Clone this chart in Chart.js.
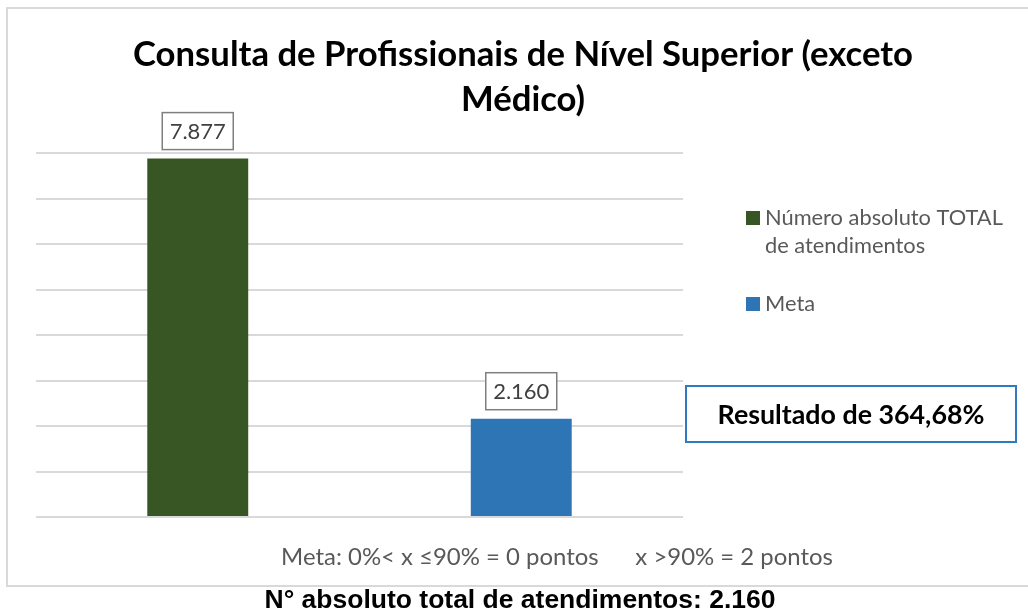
<!DOCTYPE html>
<html>
<head>
<meta charset="utf-8">
<script src="https://cdn.jsdelivr.net/npm/chart.js@4.4.1/dist/chart.umd.min.js"></script>
<style>
html,body{margin:0;padding:0;background:#fff;}
#wrap{width:1028px;height:615px;position:relative;}
</style>
</head>
<body>
<div id="wrap"><canvas id="c" width="1028" height="615"></canvas></div>
<script>
const categories = ["Número absoluto TOTAL de atendimentos", "Meta"];
const seriesLabels = ["Número absoluto TOTAL de atendimentos", "Meta"];
const totalValues = [7877, null];
const metaValues = [null, 2160];
const valueLabels = ["7.877", "2.160"];
const titleLines = ["Consulta de Profissionais de Nível Superior (exceto", "Médico)"];
const legendLines0 = ["Número absoluto TOTAL", "de atendimentos"];
const footnote = "Meta: 0%< x ≤90% = 0 pontos      x >90% = 2 pontos";
const resultText = "Resultado de 364,68%";
const bottomText = "N° absoluto total de atendimentos: 2.160";
const yMax = 8000, yStep = 1000;

const GREEN = "#375623", BLUE = "#2E75B6";

function fitFont(ctx, text, width, weight, family) {
  ctx.font = weight + " 100px " + family;
  const w = ctx.measureText(text).width;
  const size = 100 * width / w;
  ctx.font = weight + " " + size.toFixed(2) + "px " + family;
  return size;
}

const decor = {
  id: "decor",
  beforeDraw(chart) {
    const ctx = chart.ctx;
    ctx.save();
    ctx.fillStyle = "#fff";
    ctx.fillRect(0, 0, chart.width, chart.height);
    ctx.strokeStyle = "#d9d9d9";
    ctx.lineWidth = 2;
    ctx.strokeRect(7, 8, 1030, 578);
    ctx.restore();
  },
  afterDatasetsDraw(chart) {
    const ctx = chart.ctx;
    ctx.save();
    chart.data.datasets.forEach((ds, di) => {
      const meta = chart.getDatasetMeta(di);
      meta.data.forEach((el, i) => {
        if (ds.data[i] == null) return;
        const txt = valueLabels[i];
        ctx.font = "22px Lato";
        ctx.textAlign = "center";
        ctx.textBaseline = "middle";
        const bw = 71, bh = 37;
        const bx = el.x - bw / 2, by = el.y - 9 - bh;
        ctx.fillStyle = "#fff";
        ctx.fillRect(bx, by, bw, bh);
        ctx.strokeStyle = "#7f7f7f";
        ctx.lineWidth = 1.5;
        ctx.strokeRect(bx, by, bw, bh);
        ctx.fillStyle = "#404040";
        ctx.fillText(txt, el.x, by + bh / 2 + 1);
      });
    });
    ctx.restore();
  },
  afterDraw(chart) {
    const ctx = chart.ctx;
    ctx.save();
    ctx.textBaseline = "middle";
    ctx.textAlign = "center";
    // title
    ctx.fillStyle = "#000";
    fitFont(ctx, titleLines[0], 780, "bold", "Lato");
    ctx.fillText(titleLines[0], 523, 55);
    ctx.fillText(titleLines[1], 523, 100);
    // legend
    ctx.textAlign = "left";
    const legendRows = [
      {color: chart.data.datasets[0].backgroundColor, lines: legendLines0, y: 218},
      {color: chart.data.datasets[1].backgroundColor, lines: [chart.data.datasets[1].label], y: 304}
    ];
    legendRows.forEach(r => {
      ctx.fillStyle = r.color;
      ctx.fillRect(746, r.y - 7, 14, 14);
      ctx.fillStyle = "#595959";
      fitFont(ctx, legendLines0[0], 238, "normal", "Lato");
      r.lines.forEach((l, k) => ctx.fillText(l, 765, r.y + k * 28));
    });
    // result box
    ctx.strokeStyle = "#2E7BC4";
    ctx.lineWidth = 2;
    ctx.strokeRect(686, 386, 330, 56);
    ctx.fillStyle = "#000";
    ctx.textAlign = "center";
    fitFont(ctx, resultText, 267, "bold", "Lato");
    ctx.fillText(resultText, 851, 415);
    // footnote
    ctx.fillStyle = "#595959";
    fitFont(ctx, footnote, 552, "normal", "Lato");
    ctx.fillText(footnote, 557, 557);
    // bottom text
    ctx.fillStyle = "#000";
    fitFont(ctx, bottomText, 511, "bold", "'Liberation Sans', Arial");
    ctx.fillText(bottomText, 520, 601);
    ctx.restore();
  }
};

new Chart(document.getElementById("c"), {
  type: "bar",
  data: {
    labels: categories,
    datasets: [
      {label: seriesLabels[0], data: totalValues, backgroundColor: GREEN},
      {label: seriesLabels[1], data: metaValues, backgroundColor: BLUE}
    ]
  },
  options: {
    responsive: false,
    animation: false,
    devicePixelRatio: 1,
    layout: {padding: {left: 36, right: 345, top: 153, bottom: 98}},
    datasets: {bar: {grouped: false, categoryPercentage: 1, barPercentage: 0.312}},
    plugins: {legend: {display: false}, title: {display: false}, tooltip: {enabled: false}},
    scales: {
      x: {display: false},
      y: {
        min: 0, max: yMax,
        ticks: {display: false, stepSize: yStep},
        grid: {color: "#d9d9d9", lineWidth: 2, drawTicks: false},
        border: {display: false}
      }
    }
  },
  plugins: [decor]
});
</script>
</body>
</html>
